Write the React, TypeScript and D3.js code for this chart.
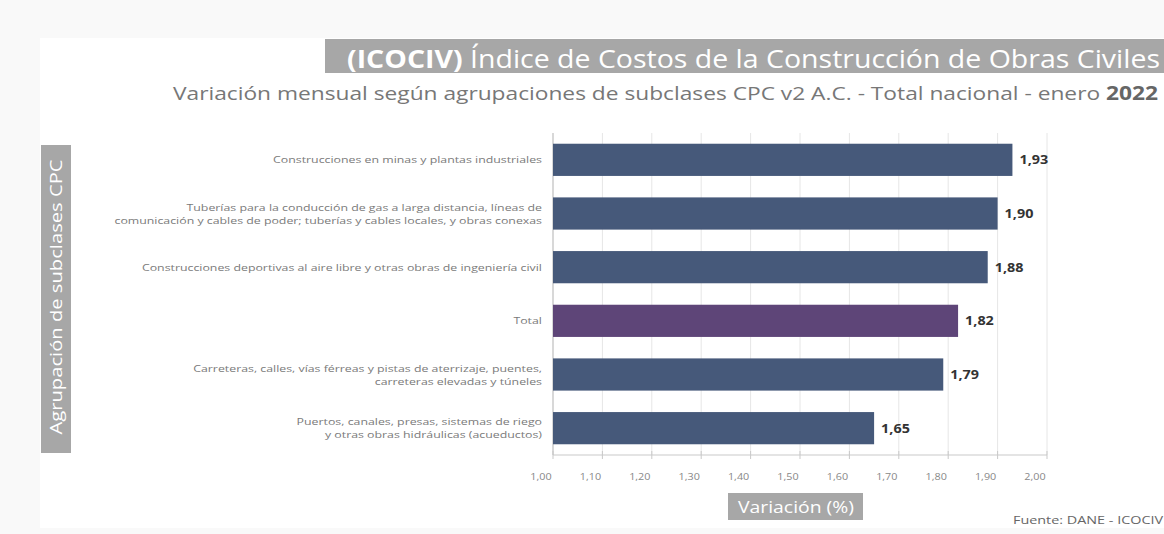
import React from 'react'
import * as d3 from 'd3'

const categories = [
  'Construcciones  en minas y plantas industriales',
  'Tuberías para la conducción de gas a larga distancia, líneas de|comunicación y cables de poder; tuberías y cables locales, y obras conexas',
  'Construcciones deportivas al aire libre y otras obras de ingeniería civil',
  'Total',
  'Carreteras, calles, vías férreas y pistas de aterrizaje, puentes,|carreteras elevadas y túneles',
  'Puertos, canales, presas, sistemas de riego|y otras obras hidráulicas (acueductos)',
]
const values = [1.93, 1.9, 1.88, 1.82, 1.79, 1.65]
const ticks = [1.0, 1.1, 1.2, 1.3, 1.4, 1.5, 1.6, 1.7, 1.8, 1.9, 2.0]

const W = 1164
const H = 534
const font = "'Open Sans', 'Noto Sans', sans-serif"
const fmt = (v: number) => v.toFixed(2).replace('.', ',')
// the source picture is stretched sideways, so text gets a horizontal scale
const SX = 1.3

const App = () => {
  const x = d3.scaleLinear().domain([1, 2]).range([553, 1047])
  const y = d3.scaleBand().domain(categories).range([133, 455]).paddingInner(0.4).paddingOuter(0.2)

  return (
    <svg width={W} height={H} style={{ position: 'absolute', left: 0, top: 0, display: 'block' }} fontFamily={font}>
      <rect x={0} y={0} width={W} height={H} fill="#f9f9f9" />
      <rect x={40} y={38} width={W - 40} height={490} fill="#fff" />

      {/* title */}
      <rect x={325} y={39} width={W - 325} height={34} fill="#a7a7a7" />
      <text x={1160} y={68} textAnchor="end" fill="#fff" fontSize={25} textLength={813} lengthAdjust="spacingAndGlyphs">
        <tspan fontWeight="bold">(ICOCIV)</tspan> Índice de Costos de la Construcción de Obras Civiles
      </text>
      <text x={1158} y={100} textAnchor="end" fill="#777" fontSize={19} textLength={985} lengthAdjust="spacingAndGlyphs">
        Variación mensual según agrupaciones de subclases CPC v2 A.C. - Total nacional - enero <tspan fontWeight="bold" fill="#666">2022</tspan>
      </text>

      {/* grid */}
      {ticks.map(t => (
        <line key={'g' + t} x1={x(t)} x2={x(t)} y1={133} y2={455} stroke="#e6e6e6" strokeWidth={1} />
      ))}
      <line x1={553} x2={1047} y1={455} y2={455} stroke="#c9c9c9" />
      <line x1={553} x2={553} y1={133} y2={455} stroke="#bdbdbd" />
      {ticks.map(t => (
        <g key={'t' + t}>
          <line x1={x(t)} x2={x(t)} y1={451} y2={459} stroke="#c9c9c9" />
          <text transform={`translate(${x(t) - 12},480) scale(1.2,1)`} textAnchor="middle" fill="#888" fontSize={9}>{fmt(t)}</text>
        </g>
      ))}

      {/* bars */}
      {categories.map((c, i) => {
        const yy = y(c) as number
        const bh = y.bandwidth()
        const lines = c.split('|')
        const cy = yy + bh / 2
        return (
          <g key={c}>
            <rect x={x(1)} y={yy} width={x(values[i]) - x(1)} height={bh}
              fill={c === 'Total' ? '#5e4578' : '#46597a'} />
            <text transform={`translate(${x(values[i]) + 7},${cy + 4.5}) scale(1.15,1)`} fill="#333" fontSize={12.5} fontWeight="bold">{fmt(values[i])}</text>
            {lines.map((l, j) => (
              <text key={j} transform={`translate(542,${cy + 3.5 + (j - (lines.length - 1) / 2) * 13}) scale(${SX},1)`}
                textAnchor="end" fill="#7a7a7a" fontSize={9.5}>{l}</text>
            ))}
          </g>
        )
      })}

      {/* y title */}
      <rect x={41} y={145} width={30} height={308} fill="#a7a7a7" />
      <text transform="translate(62,297) rotate(-90)" textAnchor="middle" fill="#fff" fontSize={17} textLength={275} lengthAdjust="spacingAndGlyphs">
        Agrupación de subclases CPC
      </text>

      {/* x title */}
      <rect x={728} y={493} width={135} height={27} fill="#a7a7a7" />
      <text x={796} y={513} textAnchor="middle" fill="#fff" fontSize={17} textLength={116} lengthAdjust="spacingAndGlyphs">Variación (%)</text>

      <text x={1163} y={524} textAnchor="end" fill="#666" fontSize={10} textLength={150} lengthAdjust="spacingAndGlyphs">Fuente: DANE - ICOCIV</text>
    </svg>
  )
}

export default App
